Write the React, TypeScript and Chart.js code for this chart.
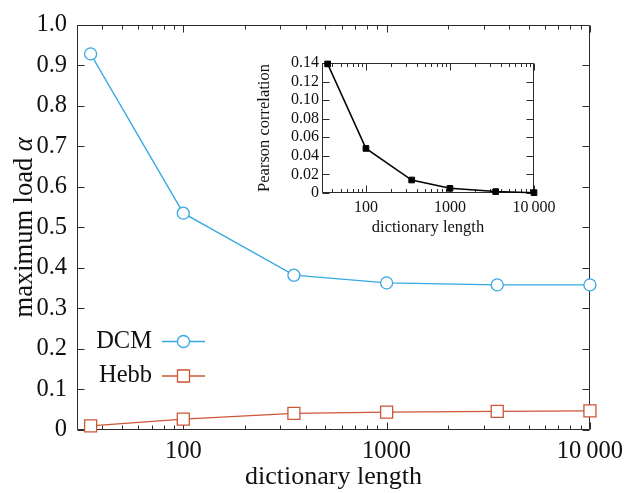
import React, { useEffect, useRef } from 'react';
import { Chart, registerables } from 'chart.js';
Chart.register(...registerables);

// ---- data ----
const dictLength = [35, 100, 350, 1000, 3500, 10000];
const dcmLoad = [0.928, 0.535, 0.382, 0.363, 0.358, 0.358];
const hebbLoad = [0.010, 0.027, 0.041, 0.044, 0.046, 0.047];
const pearson = [0.139, 0.048, 0.014, 0.005, 0.0015, 0.0004];
const seriesNames = ['DCM', 'Hebb'];
const xTickValues = [100, 1000, 10000];
const xTickLabels = ['100', '1000', '10\u2009000'];
const xDecades = [10, 100, 1000];
const minorMult = [2, 3, 4, 5, 6, 7, 8, 9];

const DCM_COLOR = '#36a9e1';
const HEBB_COLOR = '#cc5636';
const AXIS_COLOR = '#2b2b2b';
const TEXT_COLOR = '#111111';
const FONT = "'Liberation Serif', 'Times New Roman', serif";

const xMin = 30;
const xMax = 10000;
const xMinor = xDecades
  .flatMap((d) => minorMult.map((m) => m * d))
  .filter((v) => v >= xMin && v <= xMax);

type FrameOpts = { yStep: number; yMax: number; major: number; minor: number };

const makeFramePlugin = (o: FrameOpts) => ({
  id: 'frameTicks',
  beforeDatasetsDraw(chart: any) {
    const { ctx, chartArea: a, scales } = chart;
    const xs = scales.x;
    const ys = scales.y;
    ctx.save();
    ctx.strokeStyle = AXIS_COLOR;
    ctx.lineWidth = 1;
    const L = Math.round(a.left) + 0.5;
    const R = Math.round(a.right) - 0.5;
    const T = Math.round(a.top) + 0.5;
    const B = Math.round(a.bottom) - 0.5;
    ctx.beginPath();
    ctx.rect(L, T, R - L, B - T);
    ctx.stroke();
    ctx.beginPath();
    const n = Math.round(o.yMax / o.yStep);
    for (let i = 0; i <= n; i++) {
      const py = Math.round(ys.getPixelForValue(i * o.yStep)) + 0.5;
      ctx.moveTo(L, py); ctx.lineTo(L + o.major, py);
      ctx.moveTo(R, py); ctx.lineTo(R - o.major, py);
    }
    xTickValues.forEach((v) => {
      const px = Math.round(xs.getPixelForValue(v)) + 0.5;
      ctx.moveTo(px, B); ctx.lineTo(px, B - o.major);
      ctx.moveTo(px, T); ctx.lineTo(px, T + o.major);
    });
    xMinor.forEach((v) => {
      const px = Math.round(xs.getPixelForValue(v)) + 0.5;
      ctx.moveTo(px, B); ctx.lineTo(px, B - o.minor);
      ctx.moveTo(px, T); ctx.lineTo(px, T + o.minor);
    });
    ctx.stroke();
    ctx.restore();
  },
});

const mainDecor = {
  id: 'mainDecor',
  afterDraw(chart: any) {
    const { ctx, chartArea: a } = chart;
    ctx.save();
    // y-axis title with italic alpha
    const cy = (a.top + a.bottom) / 2;
    const fN = `26.5px ${FONT}`;
    const fI = `italic 26.5px ${FONT}`;
    ctx.font = fN;
    const t1 = 'maximum load ';
    const w1 = ctx.measureText(t1).width;
    ctx.font = fI;
    const w2 = ctx.measureText('α').width;
    ctx.translate(32, cy);
    ctx.rotate(-Math.PI / 2);
    ctx.fillStyle = TEXT_COLOR;
    ctx.textBaseline = 'alphabetic';
    ctx.textAlign = 'left';
    const x0 = -(w1 + w2) / 2;
    ctx.font = fN;
    ctx.fillText(t1, x0, 0);
    ctx.font = fI;
    ctx.fillText('α', x0 + w1, 0);
    ctx.restore();

    // legend
    ctx.save();
    const rows = [341.5, 376];
    chart.data.datasets.forEach((ds: any, i: number) => {
      const y = rows[i];
      ctx.strokeStyle = ds.borderColor;
      ctx.lineWidth = 1.3;
      ctx.beginPath();
      ctx.moveTo(162, y); ctx.lineTo(205, y);
      ctx.stroke();
      ctx.fillStyle = '#ffffff';
      ctx.beginPath();
      if (ds.pointStyle === 'circle') {
        ctx.arc(183.5, y, 6, 0, Math.PI * 2);
      } else {
        ctx.rect(183.5 - 6, y - 6, 12, 12);
      }
      ctx.fill();
      ctx.stroke();
      ctx.fillStyle = TEXT_COLOR;
      ctx.font = `24.5px ${FONT}`;
      ctx.textAlign = 'right';
      ctx.textBaseline = 'middle';
      ctx.fillText(seriesNames[i], 152, y);
    });
    ctx.restore();
  },
};

const xTickCallback = (v: any) => {
  const i = xTickValues.indexOf(Number(v));
  return i >= 0 ? xTickLabels[i] : '';
};

export default function App() {
  const mainRef = useRef<HTMLCanvasElement>(null);
  const insetRef = useRef<HTMLCanvasElement>(null);

  useEffect(() => {
    const main = new Chart(mainRef.current as HTMLCanvasElement, {
      type: 'line',
      data: {
        datasets: [
          {
            label: seriesNames[0],
            data: dictLength.map((x, i) => ({ x, y: dcmLoad[i] })),
            borderColor: DCM_COLOR,
            borderWidth: 1.3,
            pointStyle: 'circle',
            pointRadius: 6,
            pointBorderWidth: 1.3,
            pointBackgroundColor: '#ffffff',
            pointBorderColor: DCM_COLOR,
            clip: false as any,
          },
          {
            label: seriesNames[1],
            data: dictLength.map((x, i) => ({ x, y: hebbLoad[i] })),
            borderColor: HEBB_COLOR,
            borderWidth: 1.3,
            pointStyle: 'rect',
            pointRadius: 8.5,
            pointBorderWidth: 1.3,
            pointBackgroundColor: '#ffffff',
            pointBorderColor: HEBB_COLOR,
            clip: false as any,
          },
        ],
      },
      options: {
        responsive: false,
        animation: false,
        devicePixelRatio: 1,
        layout: { padding: { left: 0, right: 33, top: 15, bottom: 0 } },
        plugins: { legend: { display: false }, tooltip: { enabled: false } },
        scales: {
          x: {
            type: 'logarithmic',
            min: xMin,
            max: xMax,
            grid: { display: false, drawTicks: false },
            border: { display: false },
            afterBuildTicks: (s: any) => { s.ticks = xTickValues.map((v) => ({ value: v })); },
            afterFit: (s: any) => { s.height = 63; },
            ticks: {
              autoSkip: false,
              maxRotation: 0,
              padding: 7,
              color: TEXT_COLOR,
              font: { family: FONT, size: 24.5 },
              callback: xTickCallback,
            },
            title: {
              display: true,
              text: 'dictionary length',
              color: TEXT_COLOR,
              font: { family: FONT, size: 26 },
              padding: { top: 0, bottom: 0 },
            },
          },
          y: {
            type: 'linear',
            min: 0,
            max: 1.0,
            grid: { display: false, drawTicks: false },
            border: { display: false },
            afterFit: (s: any) => { s.width = 77; },
            ticks: {
              stepSize: 0.1,
              autoSkip: false,
              padding: 10,
              color: TEXT_COLOR,
              font: { family: FONT, size: 24.5 },
              callback: (v: any) => (Number(v) === 0 ? '0' : Number(v).toFixed(1)),
            },
          },
        },
      },
      plugins: [makeFramePlugin({ yStep: 0.1, yMax: 1.0, major: 7, minor: 4 }), mainDecor],
    } as any);

    const inset = new Chart(insetRef.current as HTMLCanvasElement, {
      type: 'line',
      data: {
        datasets: [
          {
            label: 'Pearson correlation',
            data: dictLength.map((x, i) => ({ x, y: pearson[i] })),
            borderColor: '#000000',
            borderWidth: 1.5,
            pointStyle: 'rect',
            pointRadius: 4,
            pointBackgroundColor: '#000000',
            pointBorderColor: '#000000',
            pointBorderWidth: 1,
            clip: false as any,
          },
        ],
      },
      options: {
        responsive: false,
        animation: false,
        devicePixelRatio: 1,
        layout: { padding: { left: 0, right: 36, top: 13, bottom: 0 } },
        plugins: { legend: { display: false }, tooltip: { enabled: false } },
        scales: {
          x: {
            type: 'logarithmic',
            min: xMin,
            max: xMax,
            grid: { display: false, drawTicks: false },
            border: { display: false },
            afterBuildTicks: (s: any) => { s.ticks = xTickValues.map((v) => ({ value: v })); },
            afterFit: (s: any) => { s.height = 47; },
            ticks: {
              autoSkip: false,
              maxRotation: 0,
              padding: 5,
              color: TEXT_COLOR,
              font: { family: FONT, size: 16 },
              callback: xTickCallback,
            },
            title: {
              display: true,
              text: 'dictionary length',
              color: TEXT_COLOR,
              font: { family: FONT, size: 16.5 },
              padding: { top: 0, bottom: 2 },
            },
          },
          y: {
            type: 'linear',
            min: 0,
            max: 0.14,
            grid: { display: false, drawTicks: false },
            border: { display: false },
            afterFit: (s: any) => { s.width = 72; },
            ticks: {
              stepSize: 0.02,
              autoSkip: false,
              padding: 3,
              color: TEXT_COLOR,
              font: { family: FONT, size: 16 },
              callback: (v: any) => (Number(v) === 0 ? '0' : Number(v).toFixed(2)),
            },
            title: {
              display: true,
              text: 'Pearson correlation',
              color: TEXT_COLOR,
              font: { family: FONT, size: 16.5 },
              padding: { top: 5, bottom: 0 },
            },
          },
        },
      },
      plugins: [makeFramePlugin({ yStep: 0.02, yMax: 0.14, major: 7, minor: 3.5 })],
    } as any);

    return () => {
      main.destroy();
      inset.destroy();
    };
  }, []);

  return (
    <div style={{ position: 'fixed', left: 0, top: 0, width: 630, height: 493, background: '#ffffff' }}>
      <canvas
        ref={mainRef}
        width={630}
        height={493}
        style={{ position: 'absolute', left: 0, top: 0, width: 630, height: 493 }}
      />
      <canvas
        ref={insetRef}
        width={320}
        height={190}
        style={{ position: 'absolute', left: 250, top: 50, width: 320, height: 190 }}
      />
    </div>
  );
}
